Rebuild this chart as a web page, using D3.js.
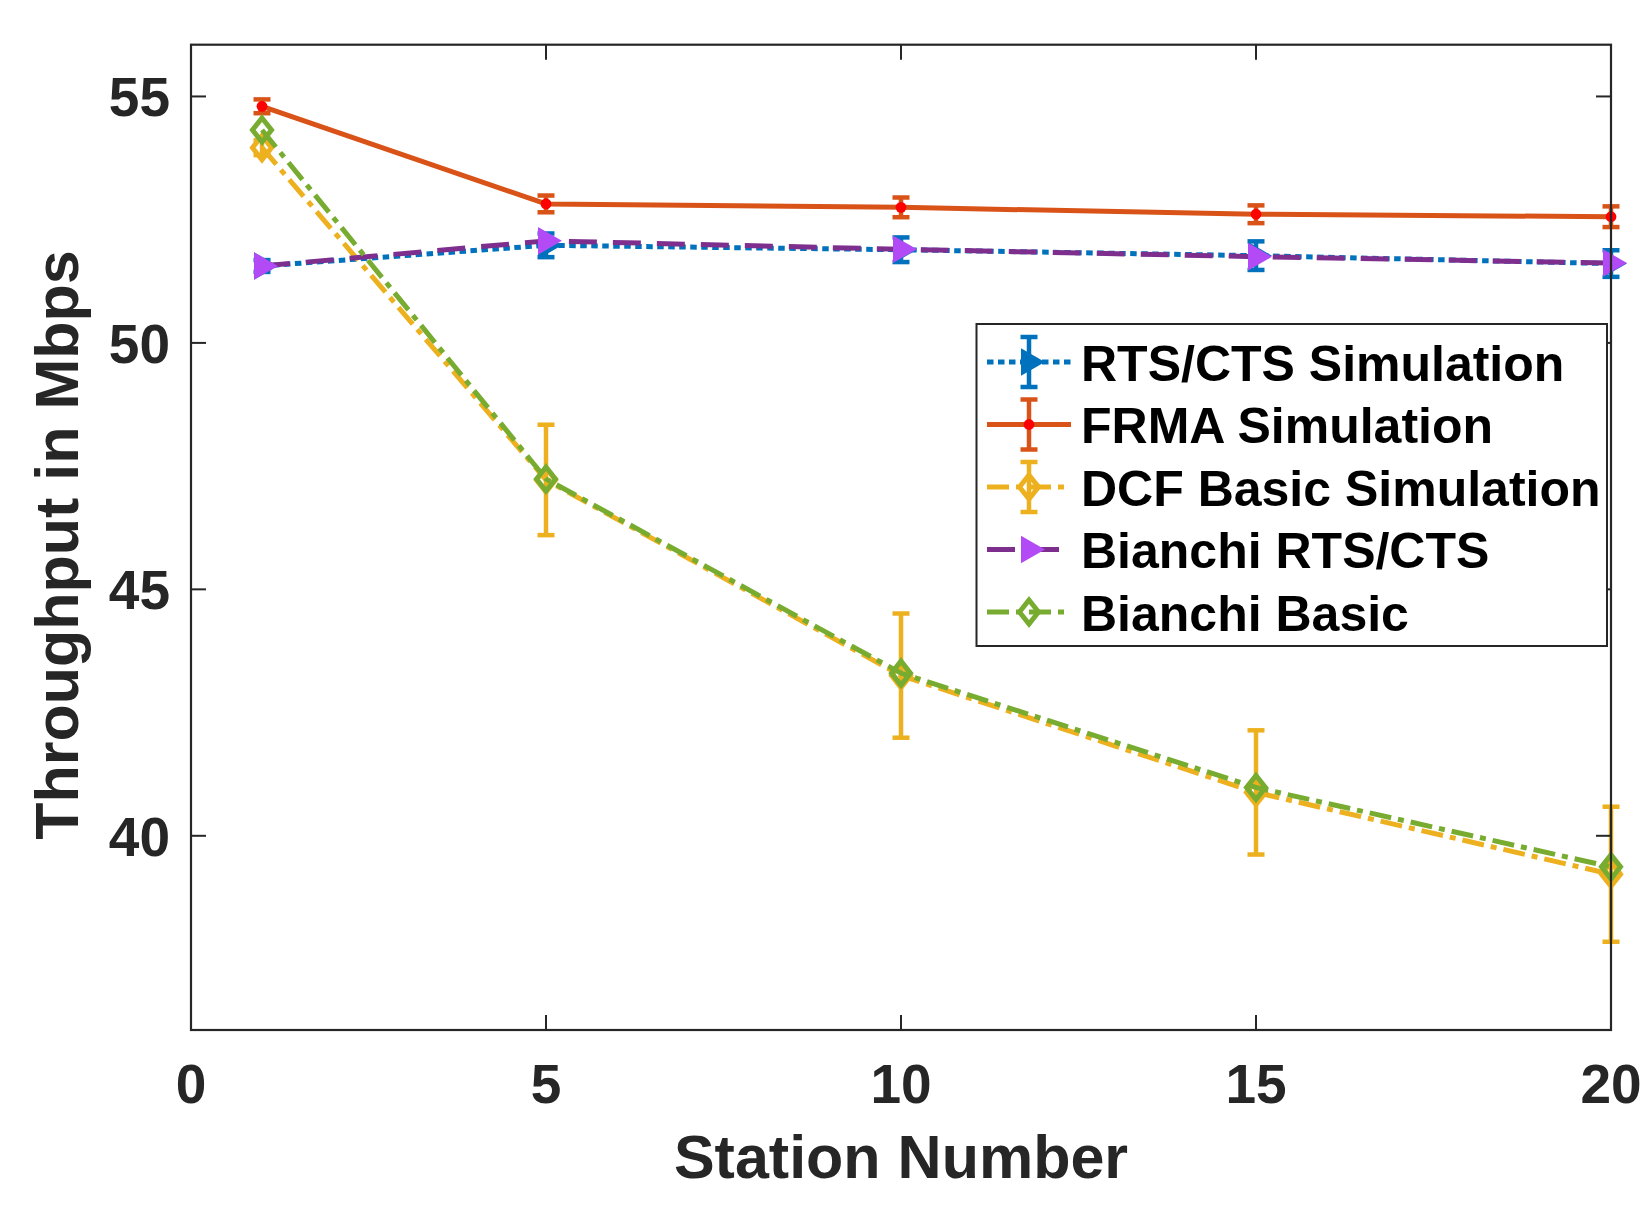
<!DOCTYPE html>
<html><head><meta charset="utf-8">
<script src="https://cdn.jsdelivr.net/npm/d3@7"></script>
<style>
body{margin:0;background:#fff}
text{font-family:"Liberation Sans",Arial,sans-serif;font-weight:bold}
</style>
</head><body>
<svg id="c" width="1650" height="1225"></svg>
<script>
// ---- data ----
const stations = [1, 5, 10, 15, 20];
const rtsSim = [51.56, 51.98, 51.89, 51.77, 51.61];
const rtsErr = [0.12, 0.24, 0.25, 0.29, 0.27];
const frmaSim = [54.80, 52.82, 52.75, 52.61, 52.56];
const frmaErr = [0.14, 0.17, 0.20, 0.18, 0.21];
const dcfSim = [53.96, 47.22, 43.25, 40.88, 39.22];
const dcfErr = [0.15, 1.12, 1.26, 1.26, 1.37];
const bianchiRts = [51.56, 52.07, 51.90, 51.75, 51.62];
const bianchiBasic = [54.32, 47.24, 43.30, 40.98, 39.37];
const xTicks = [0, 5, 10, 15, 20];
const yTicks = [40, 45, 50, 55];
const seriesNames = ["RTS/CTS Simulation", "FRMA Simulation", "DCF Basic Simulation", "Bianchi RTS/CTS", "Bianchi Basic"];
const xLabel = "Station Number";
const yLabel = "Throughput in Mbps";

// ---- layout ----
const L = 191, R = 1611, T = 44.7, B = 1030;
const svg = d3.select("#c");
const x = d3.scaleLinear().domain([0, 20]).range([L, R]);
const y = d3.scaleLinear().domain([36.06, 56.05]).range([B, T]);
const axisColor = "#262626";

const diamond = { draw(ctx) { const w = 9.5, h = 12; ctx.moveTo(0, -h); ctx.lineTo(w, 0); ctx.lineTo(0, h); ctx.lineTo(-w, 0); ctx.closePath(); } };
const triPath = d3.symbol(d3.symbolTriangle, 330)();
const diaPath = d3.symbol(diamond)();

const series = [
  { name: seriesNames[0], vals: rtsSim, err: rtsErr, color: "#0072BD", dash: "6.5,4.5", marker: "tri", mfill: "#0072BD" },
  { name: seriesNames[1], vals: frmaSim, err: frmaErr, color: "#D95319", dash: null, marker: "dot", mfill: "#FF0000" },
  { name: seriesNames[2], vals: dcfSim, err: dcfErr, color: "#EDB120", dash: "22,7,6,7", marker: "dia", mfill: "none" },
  { name: seriesNames[3], vals: bianchiRts, err: null, color: "#7E2F8E", dash: "28,16", marker: "tri", mfill: "#B24BF5" },
  { name: seriesNames[4], vals: bianchiBasic, err: null, color: "#77AC30", dash: "22,7,6,7", marker: "dia", mfill: "none" }
];

const line = d3.line().x(d => x(d[0])).y(d => y(d[1]));
const plot = svg.append("g");

function drawMarker(g, s, cx, cy) {
  if (s.marker === "tri") {
    g.append("path").attr("d", triPath).attr("transform", `translate(${cx},${cy}) rotate(90)`).attr("fill", s.mfill);
  } else if (s.marker === "dot") {
    g.append("circle").attr("cx", cx).attr("cy", cy).attr("r", 5.4).attr("fill", s.mfill);
  } else {
    g.append("path").attr("d", diaPath).attr("transform", `translate(${cx},${cy})`).attr("fill", "none")
      .attr("stroke", s.color).attr("stroke-width", 5).attr("stroke-linejoin", "miter");
  }
}
function drawErr(g, color, cx, cy1, cy2) {
  g.append("line").attr("x1", cx).attr("x2", cx).attr("y1", cy1).attr("y2", cy2).attr("stroke", color).attr("stroke-width", 4.5);
  [cy1, cy2].forEach(cy => g.append("line").attr("x1", cx - 8.5).attr("x2", cx + 8.5).attr("y1", cy).attr("y2", cy).attr("stroke", color).attr("stroke-width", 4.5));
}

series.forEach(s => {
  const g = plot.append("g");
  const pts = stations.map((st, i) => [st, s.vals[i]]);
  g.append("path").attr("d", line(pts)).attr("fill", "none").attr("stroke", s.color).attr("stroke-width", 5)
    .attr("stroke-dasharray", s.dash).attr("stroke-linejoin", "round");
  if (s.err) pts.forEach((p, i) => drawErr(g, s.color, x(p[0]), y(p[1] + s.err[i]), y(p[1] - s.err[i])));
  pts.forEach(p => drawMarker(g, s, x(p[0]), y(p[1])));
});

// ---- axes box and ticks ----
const ax = svg.append("g");
ax.append("rect").attr("x", L).attr("y", T).attr("width", R - L).attr("height", B - T)
  .attr("fill", "none").attr("stroke", axisColor).attr("stroke-width", 2.2);
const tl = 15;
xTicks.forEach(t => {
  ax.append("line").attr("x1", x(t)).attr("x2", x(t)).attr("y1", B).attr("y2", B - tl).attr("stroke", axisColor).attr("stroke-width", 2);
  ax.append("line").attr("x1", x(t)).attr("x2", x(t)).attr("y1", T).attr("y2", T + tl).attr("stroke", axisColor).attr("stroke-width", 2);
  ax.append("text").attr("x", x(t)).attr("y", 1103).attr("text-anchor", "middle").attr("font-size", 55).attr("fill", axisColor).text(t);
});
yTicks.forEach(t => {
  ax.append("line").attr("x1", L).attr("x2", L + tl).attr("y1", y(t)).attr("y2", y(t)).attr("stroke", axisColor).attr("stroke-width", 2);
  ax.append("line").attr("x1", R).attr("x2", R - tl).attr("y1", y(t)).attr("y2", y(t)).attr("stroke", axisColor).attr("stroke-width", 2);
  ax.append("text").attr("x", 170).attr("y", y(t) + 20).attr("text-anchor", "end").attr("font-size", 55).attr("fill", axisColor).text(t);
});
ax.append("text").attr("x", (L + R) / 2).attr("y", 1178).attr("text-anchor", "middle").attr("font-size", 61).attr("fill", axisColor).text(xLabel);
ax.append("text").attr("transform", `translate(78,545) rotate(-90)`).attr("text-anchor", "middle").attr("font-size", 61).attr("fill", axisColor).text(yLabel);

// ---- legend ----
const lg = svg.append("g");
lg.append("rect").attr("x", 976.5).attr("y", 324).attr("width", 630.5).attr("height", 322)
  .attr("fill", "#fff").attr("stroke", axisColor).attr("stroke-width", 2);
series.forEach((s, i) => {
  const cy = 362 + i * 62.5;
  const g = lg.append("g");
  g.append("line").attr("x1", 987).attr("x2", 1071).attr("y1", cy).attr("y2", cy).attr("stroke", s.color)
    .attr("stroke-width", 5).attr("stroke-dasharray", s.dash);
  if (s.err) drawErr(g, s.color, 1029, cy - 25, cy + 25);
  drawMarker(g, s, 1029, cy);
  g.append("text").attr("x", 1081).attr("y", cy + 18.5).attr("font-size", 50).attr("fill", "#000").text(s.name);
});
</script>
</body></html>
